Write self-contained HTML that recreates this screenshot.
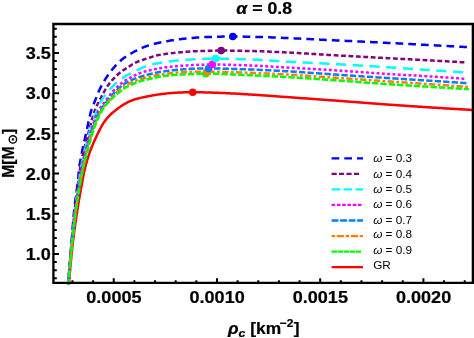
<!DOCTYPE html>
<html><head><meta charset="utf-8"><title>plot</title>
<style>
html,body{margin:0;padding:0;background:#fff;}
body{width:474px;height:338px;overflow:hidden;position:relative;font-family:"Liberation Sans",sans-serif;}
</style></head><body>
<svg width="474" height="338" viewBox="0 0 474 338" style="position:absolute;left:0;top:0;will-change:transform">
<defs><clipPath id="cp"><rect x="53.2" y="23" width="419.8" height="261.8"/></clipPath></defs>
<g clip-path="url(#cp)" fill="none" stroke-width="2.5">
<path d="M69.00,284.50 L69.07,283.41 L69.15,282.32 L69.23,281.22 L69.31,280.13 L69.39,279.04 L69.47,277.95 L69.55,276.86 L69.64,275.77 L69.73,274.68 L69.82,273.59 L69.91,272.50 L70.00,271.41 L70.09,270.32 L70.18,269.23 L70.28,268.14 L70.38,267.05 L70.48,265.96 L70.58,264.87 L70.68,263.78 L70.78,262.69 L70.88,261.60 L70.99,260.51 L71.09,259.43 L71.20,258.34 L71.31,257.25 L71.42,256.16 L71.53,255.07 L71.64,253.99 L71.75,252.90 L71.87,251.81 L71.98,250.73 L72.10,249.64 L72.21,248.55 L72.33,247.46 L72.45,246.38 L72.57,245.29 L72.69,244.21 L72.81,243.12 L72.94,242.03 L73.06,240.95 L73.19,239.86 L73.32,238.78 L73.46,237.69 L73.59,236.61 L73.73,235.52 L73.87,234.44 L74.01,233.35 L74.16,232.27 L74.30,231.18 L74.45,230.10 L74.60,229.02 L74.75,227.93 L74.90,226.85 L75.05,225.77 L75.21,224.68 L75.36,223.60 L75.52,222.52 L75.68,221.43 L75.84,220.35 L76.00,219.27 L76.16,218.19 L76.32,217.11 L76.48,216.02 L76.65,214.94 L76.81,213.86 L76.97,212.78 L77.14,211.70 L77.31,210.62 L77.47,209.54 L77.64,208.46 L77.81,207.38 L77.98,206.30 L78.15,205.22 L78.33,204.14 L78.50,203.06 L78.68,201.98 L78.86,200.90 L79.04,199.82 L79.23,198.74 L79.41,197.67 L79.60,196.59 L79.78,195.51 L79.97,194.43 L80.16,193.36 L80.35,192.28 L80.54,191.20 L80.74,190.13 L80.93,189.05 L81.12,187.97 L81.32,186.90 L81.52,185.82 L81.72,184.74 L81.91,183.67 L82.11,182.59 L82.32,181.52 L82.52,180.44 L82.72,179.37 L82.92,178.29 L83.12,177.22 L83.32,176.14 L83.53,175.07 L83.74,173.99 L83.96,172.92 L84.19,171.85 L84.42,170.79 L84.66,169.72 L84.92,168.66 L85.18,167.60 L85.45,166.54 L85.72,165.48 L86.00,164.42 L86.29,163.36 L86.59,162.31 L86.89,161.25 L87.20,160.20 L87.52,159.15 L87.84,158.11 L88.16,157.06 L88.50,156.02 L88.84,154.98 L89.18,153.95 L89.53,152.91 L89.89,151.89 L90.26,150.86 L90.65,149.84 L91.04,148.82 L91.45,147.80 L91.86,146.79 L92.29,145.78 L92.71,144.77 L93.15,143.76 L93.58,142.76 L94.02,141.75 L94.47,140.75 L94.91,139.75 L95.36,138.76 L95.81,137.76 L96.27,136.77 L96.73,135.78 L97.21,134.79 L97.68,133.81 L98.17,132.82 L98.66,131.85 L99.15,130.87 L99.65,129.90 L100.16,128.93 L100.66,127.96 L101.18,126.99 L101.70,126.02 L102.24,125.07 L102.79,124.13 L103.37,123.20 L103.97,122.30 L104.59,121.40 L105.25,120.52 L105.92,119.65 L106.60,118.80 L107.30,117.96 L108.03,117.14 L108.77,116.33 L109.53,115.54 L110.31,114.77 L111.10,114.02 L111.91,113.29 L112.74,112.58 L113.59,111.88 L114.44,111.19 L115.29,110.51 L116.15,109.83 L117.01,109.15 L117.88,108.49 L118.76,107.84 L119.65,107.21 L120.55,106.58 L121.45,105.96 L122.36,105.35 L123.28,104.76 L124.21,104.18 L125.15,103.62 L126.11,103.10 L127.07,102.59 L128.05,102.10 L129.04,101.63 L130.05,101.18 L131.06,100.76 L132.07,100.36 L133.10,99.99 L134.13,99.64 L135.18,99.31 L136.23,99.00 L137.28,98.70 L138.34,98.42 L139.40,98.15 L140.46,97.89 L141.52,97.64 L142.59,97.40 L143.66,97.17 L144.73,96.94 L145.81,96.73 L146.88,96.52 L147.95,96.31 L149.03,96.11 L150.10,95.90 L151.18,95.71 L152.25,95.51 L153.33,95.32 L154.41,95.14 L155.49,94.96 L156.57,94.79 L157.65,94.62 L158.74,94.47 L159.82,94.32 L160.90,94.18 L161.99,94.04 L163.07,93.91 L164.16,93.77 L165.24,93.64 L166.33,93.51 L167.42,93.38 L168.51,93.27 L169.60,93.16 L170.69,93.05 L171.78,92.96 L172.87,92.88 L173.96,92.81 L175.05,92.75 L176.14,92.70 L177.23,92.64 L178.32,92.59 L179.41,92.54 L180.51,92.50 L181.60,92.45 L182.69,92.41 L183.79,92.37 L184.88,92.33 L185.97,92.30 L187.07,92.27 L188.16,92.25 L189.26,92.23 L190.35,92.21 L191.44,92.20 L192.54,92.20 L193.63,92.20 L194.72,92.21 L195.82,92.21 L196.91,92.23 L198.00,92.24 L199.10,92.26 L200.19,92.28 L201.28,92.30 L202.38,92.33 L203.47,92.35 L204.56,92.38 L205.66,92.41 L206.75,92.44 L207.84,92.48 L208.94,92.51 L210.03,92.55 L211.12,92.59 L212.22,92.62 L213.31,92.66 L214.40,92.70 L215.50,92.74 L216.59,92.78 L217.68,92.82 L218.77,92.86 L219.87,92.90 L220.96,92.93 L222.05,92.97 L223.14,93.02 L224.24,93.06 L225.33,93.11 L226.42,93.16 L227.51,93.21 L228.61,93.26 L229.70,93.32 L230.79,93.38 L231.88,93.43 L232.98,93.49 L234.07,93.55 L235.16,93.61 L236.25,93.67 L237.34,93.74 L238.44,93.80 L239.53,93.87 L240.62,93.93 L241.71,94.00 L242.80,94.06 L243.89,94.13 L244.99,94.20 L246.08,94.26 L247.17,94.33 L248.26,94.40 L249.35,94.46 L250.44,94.53 L251.54,94.59 L252.63,94.66 L253.72,94.73 L254.81,94.80 L255.90,94.87 L256.99,94.94 L258.08,95.01 L259.17,95.09 L260.27,95.16 L261.36,95.24 L262.45,95.31 L263.54,95.39 L264.63,95.46 L265.72,95.54 L266.81,95.62 L267.90,95.69 L268.99,95.77 L270.08,95.85 L271.18,95.93 L272.27,96.01 L273.36,96.09 L274.45,96.17 L275.54,96.25 L276.63,96.32 L277.72,96.40 L278.81,96.48 L279.90,96.56 L280.99,96.64 L282.08,96.72 L283.17,96.80 L284.26,96.88 L285.36,96.95 L286.45,97.03 L287.54,97.11 L288.63,97.19 L289.72,97.26 L290.81,97.34 L291.90,97.42 L292.99,97.50 L294.08,97.58 L295.17,97.66 L296.26,97.73 L297.35,97.81 L298.45,97.89 L299.54,97.97 L300.63,98.05 L301.72,98.13 L302.81,98.21 L303.90,98.29 L304.99,98.37 L306.08,98.44 L307.17,98.52 L308.26,98.60 L309.35,98.68 L310.44,98.76 L311.53,98.84 L312.62,98.92 L313.72,99.00 L314.81,99.08 L315.90,99.16 L316.99,99.24 L318.08,99.32 L319.17,99.40 L320.26,99.48 L321.35,99.56 L322.44,99.64 L323.53,99.72 L324.62,99.80 L325.71,99.88 L326.80,99.96 L327.89,100.04 L328.98,100.13 L330.08,100.21 L331.17,100.29 L332.26,100.37 L333.35,100.45 L334.44,100.53 L335.53,100.61 L336.62,100.69 L337.71,100.77 L338.80,100.86 L339.89,100.94 L340.98,101.02 L342.07,101.10 L343.16,101.19 L344.25,101.27 L345.34,101.35 L346.43,101.44 L347.52,101.52 L348.61,101.60 L349.70,101.69 L350.80,101.77 L351.89,101.85 L352.98,101.94 L354.07,102.02 L355.16,102.10 L356.25,102.19 L357.34,102.27 L358.43,102.35 L359.52,102.44 L360.61,102.52 L361.70,102.60 L362.79,102.69 L363.88,102.77 L364.97,102.85 L366.06,102.93 L367.15,103.02 L368.24,103.10 L369.33,103.18 L370.42,103.26 L371.51,103.35 L372.60,103.43 L373.70,103.51 L374.79,103.59 L375.88,103.67 L376.97,103.75 L378.06,103.83 L379.15,103.91 L380.24,103.99 L381.33,104.08 L382.42,104.15 L383.51,104.23 L384.60,104.31 L385.69,104.39 L386.78,104.47 L387.87,104.55 L388.96,104.63 L390.06,104.70 L391.15,104.78 L392.24,104.86 L393.33,104.93 L394.42,105.01 L395.51,105.09 L396.60,105.16 L397.69,105.24 L398.78,105.32 L399.87,105.39 L400.96,105.47 L402.06,105.54 L403.15,105.62 L404.24,105.69 L405.33,105.77 L406.42,105.84 L407.51,105.92 L408.60,105.99 L409.69,106.06 L410.78,106.14 L411.88,106.21 L412.97,106.28 L414.06,106.36 L415.15,106.43 L416.24,106.50 L417.33,106.58 L418.42,106.65 L419.51,106.72 L420.61,106.79 L421.70,106.86 L422.79,106.93 L423.88,107.01 L424.97,107.08 L426.06,107.15 L427.15,107.22 L428.24,107.29 L429.34,107.36 L430.43,107.43 L431.52,107.50 L432.61,107.57 L433.70,107.64 L434.79,107.70 L435.88,107.77 L436.98,107.84 L438.07,107.91 L439.16,107.98 L440.25,108.05 L441.34,108.11 L442.43,108.18 L443.52,108.25 L444.62,108.32 L445.71,108.38 L446.80,108.45 L447.89,108.52 L448.98,108.58 L450.07,108.65 L451.17,108.72 L452.26,108.78 L453.35,108.85 L454.44,108.91 L455.53,108.98 L456.62,109.05 L457.72,109.11 L458.81,109.18 L459.90,109.24 L460.99,109.30 L462.08,109.37 L463.17,109.43 L464.27,109.50 L465.36,109.56 L466.45,109.62 L467.54,109.69 L468.63,109.75 L469.72,109.81 L470.82,109.88 L471.91,109.94 L473.00,110.00" stroke="#ff0000"/>
<path d="M67.90,284.50 L68.00,283.33 L68.11,282.16 L68.21,280.99 L68.31,279.82 L68.41,278.65 L68.51,277.48 L68.62,276.31 L68.72,275.14 L68.82,273.97 L68.92,272.80 L69.02,271.63 L69.12,270.46 L69.22,269.29 L69.33,268.12 L69.43,266.95 L69.53,265.78 L69.63,264.61 L69.73,263.44 L69.83,262.27 L69.93,261.10 L70.03,259.93 L70.13,258.76 L70.23,257.59 L70.33,256.42 L70.43,255.25 L70.53,254.08 L70.63,252.91 L70.73,251.74 L70.83,250.57 L70.93,249.40 L71.03,248.23 L71.13,247.06 L71.22,245.89 L71.32,244.72 L71.42,243.55 L71.52,242.38 L71.61,241.21 L71.71,240.04 L71.80,238.87 L71.89,237.70 L71.98,236.53 L72.07,235.35 L72.16,234.18 L72.25,233.01 L72.34,231.84 L72.43,230.67 L72.52,229.50 L72.61,228.33 L72.71,227.16 L72.80,225.99 L72.89,224.82 L72.98,223.64 L73.08,222.47 L73.17,221.30 L73.27,220.13 L73.37,218.96 L73.47,217.79 L73.57,216.62 L73.68,215.45 L73.79,214.29 L73.90,213.12 L74.01,211.95 L74.12,210.78 L74.24,209.61 L74.36,208.45 L74.49,207.28 L74.63,206.11 L74.77,204.95 L74.91,203.78 L75.06,202.62 L75.21,201.45 L75.36,200.29 L75.52,199.12 L75.68,197.96 L75.84,196.80 L76.00,195.63 L76.16,194.47 L76.33,193.31 L76.49,192.14 L76.65,190.98 L76.81,189.81 L76.96,188.65 L77.11,187.49 L77.27,186.32 L77.41,185.16 L77.55,183.99 L77.69,182.82 L77.82,181.66 L77.95,180.49 L78.07,179.32 L78.18,178.15 L78.28,176.98 L78.37,175.81 L78.47,174.64 L78.57,173.47 L78.67,172.30 L78.79,171.13 L78.91,169.97 L79.06,168.80 L79.21,167.64 L79.38,166.48 L79.55,165.32 L79.74,164.16 L79.93,163.00 L80.14,161.84 L80.34,160.68 L80.56,159.53 L80.77,158.37 L80.99,157.22 L81.21,156.06 L81.44,154.91 L81.66,153.76 L81.88,152.60 L82.10,151.45 L82.33,150.30 L82.56,149.15 L82.80,148.00 L83.04,146.85 L83.29,145.70 L83.54,144.56 L83.79,143.41 L84.04,142.26 L84.30,141.12 L84.56,139.97 L84.82,138.82 L85.07,137.68 L85.33,136.53 L85.59,135.39 L85.85,134.24 L86.11,133.09 L86.37,131.95 L86.62,130.80 L86.88,129.65 L87.12,128.51 L87.36,127.35 L87.60,126.20 L87.83,125.05 L88.07,123.89 L88.30,122.74 L88.54,121.58 L88.78,120.43 L89.02,119.28 L89.27,118.13 L89.53,116.99 L89.80,115.85 L90.08,114.71 L90.37,113.58 L90.67,112.45 L91.00,111.33 L91.35,110.22 L91.72,109.11 L92.12,108.00 L92.53,106.90 L92.96,105.81 L93.40,104.71 L93.84,103.62 L94.28,102.53 L94.73,101.44 L95.16,100.34 L95.59,99.25 L96.02,98.16 L96.45,97.06 L96.88,95.96 L97.31,94.87 L97.75,93.78 L98.20,92.69 L98.66,91.61 L99.13,90.54 L99.62,89.48 L100.13,88.42 L100.65,87.38 L101.19,86.34 L101.75,85.30 L102.31,84.27 L102.90,83.24 L103.49,82.22 L104.09,81.21 L104.70,80.20 L105.32,79.20 L105.94,78.21 L106.58,77.23 L107.22,76.24 L107.87,75.27 L108.54,74.30 L109.23,73.33 L109.92,72.39 L110.64,71.45 L111.36,70.53 L112.10,69.64 L112.86,68.74 L113.63,67.85 L114.41,66.96 L115.20,66.08 L116.00,65.21 L116.82,64.34 L117.65,63.49 L118.49,62.66 L119.34,61.84 L120.20,61.04 L121.08,60.27 L121.96,59.51 L122.86,58.79 L123.78,58.08 L124.72,57.40 L125.68,56.73 L126.66,56.08 L127.66,55.45 L128.67,54.83 L129.69,54.23 L130.71,53.64 L131.74,53.06 L132.78,52.50 L133.81,51.94 L134.84,51.39 L135.88,50.84 L136.93,50.30 L137.98,49.77 L139.04,49.25 L140.11,48.74 L141.18,48.24 L142.25,47.77 L143.34,47.31 L144.42,46.88 L145.52,46.47 L146.62,46.09 L147.73,45.72 L148.85,45.37 L149.97,45.04 L151.11,44.71 L152.24,44.40 L153.38,44.10 L154.53,43.82 L155.67,43.55 L156.82,43.29 L157.96,43.03 L159.11,42.78 L160.25,42.54 L161.40,42.30 L162.55,42.06 L163.70,41.83 L164.86,41.60 L166.01,41.38 L167.17,41.16 L168.33,40.95 L169.49,40.74 L170.65,40.54 L171.81,40.35 L172.97,40.16 L174.13,39.98 L175.29,39.81 L176.46,39.65 L177.62,39.49 L178.78,39.34 L179.94,39.21 L181.11,39.07 L182.27,38.94 L183.44,38.81 L184.61,38.69 L185.77,38.56 L186.94,38.44 L188.11,38.32 L189.28,38.20 L190.45,38.09 L191.62,37.98 L192.79,37.88 L193.96,37.77 L195.14,37.68 L196.31,37.59 L197.48,37.50 L198.65,37.42 L199.83,37.35 L201.00,37.28 L202.17,37.22 L203.34,37.16 L204.52,37.12 L205.69,37.08 L206.86,37.04 L208.03,37.00 L209.21,36.96 L210.38,36.92 L211.55,36.88 L212.73,36.85 L213.90,36.81 L215.08,36.78 L216.25,36.75 L217.42,36.72 L218.60,36.69 L219.77,36.66 L220.95,36.63 L222.12,36.61 L223.30,36.59 L224.47,36.57 L225.65,36.55 L226.82,36.54 L228.00,36.52 L229.17,36.51 L230.34,36.51 L231.52,36.50 L232.69,36.50 L233.87,36.50 L235.04,36.51 L236.22,36.51 L237.39,36.52 L238.56,36.53 L239.74,36.55 L240.91,36.56 L242.09,36.58 L243.26,36.60 L244.43,36.63 L245.61,36.65 L246.78,36.67 L247.96,36.70 L249.13,36.73 L250.31,36.75 L251.48,36.78 L252.65,36.81 L253.83,36.84 L255.00,36.87 L256.18,36.90 L257.35,36.93 L258.52,36.96 L259.70,36.99 L260.87,37.02 L262.04,37.05 L263.22,37.09 L264.39,37.13 L265.57,37.16 L266.74,37.20 L267.91,37.25 L269.09,37.29 L270.26,37.33 L271.43,37.38 L272.61,37.43 L273.78,37.48 L274.95,37.52 L276.13,37.57 L277.30,37.62 L278.47,37.68 L279.65,37.73 L280.82,37.78 L281.99,37.83 L283.17,37.88 L284.34,37.93 L285.51,37.98 L286.69,38.03 L287.86,38.08 L289.03,38.13 L290.21,38.18 L291.38,38.23 L292.55,38.29 L293.73,38.34 L294.90,38.39 L296.07,38.45 L297.24,38.50 L298.42,38.56 L299.59,38.61 L300.76,38.67 L301.94,38.72 L303.11,38.78 L304.28,38.84 L305.45,38.89 L306.63,38.95 L307.80,39.01 L308.97,39.07 L310.15,39.12 L311.32,39.18 L312.49,39.24 L313.67,39.30 L314.84,39.36 L316.01,39.41 L317.18,39.47 L318.36,39.53 L319.53,39.59 L320.70,39.65 L321.88,39.70 L323.05,39.76 L324.22,39.82 L325.39,39.88 L326.57,39.93 L327.74,39.99 L328.91,40.05 L330.09,40.10 L331.26,40.16 L332.43,40.22 L333.60,40.27 L334.78,40.33 L335.95,40.38 L337.12,40.44 L338.30,40.50 L339.47,40.55 L340.64,40.61 L341.82,40.66 L342.99,40.72 L344.16,40.78 L345.33,40.83 L346.51,40.89 L347.68,40.94 L348.85,41.00 L350.03,41.06 L351.20,41.11 L352.37,41.17 L353.55,41.22 L354.72,41.28 L355.89,41.34 L357.06,41.39 L358.24,41.45 L359.41,41.50 L360.58,41.56 L361.76,41.62 L362.93,41.67 L364.10,41.73 L365.27,41.78 L366.45,41.84 L367.62,41.90 L368.79,41.95 L369.97,42.01 L371.14,42.07 L372.31,42.13 L373.49,42.18 L374.66,42.24 L375.83,42.30 L377.00,42.35 L378.18,42.41 L379.35,42.47 L380.52,42.53 L381.70,42.59 L382.87,42.64 L384.04,42.70 L385.21,42.76 L386.39,42.82 L387.56,42.88 L388.73,42.94 L389.91,43.00 L391.08,43.05 L392.25,43.11 L393.42,43.17 L394.60,43.23 L395.77,43.29 L396.94,43.35 L398.11,43.41 L399.29,43.48 L400.46,43.54 L401.63,43.60 L402.81,43.66 L403.98,43.72 L405.15,43.78 L406.32,43.84 L407.50,43.90 L408.67,43.97 L409.84,44.03 L411.01,44.09 L412.19,44.15 L413.36,44.21 L414.53,44.28 L415.70,44.34 L416.88,44.40 L418.05,44.46 L419.22,44.53 L420.40,44.59 L421.57,44.65 L422.74,44.71 L423.91,44.78 L425.09,44.84 L426.26,44.90 L427.43,44.96 L428.60,45.03 L429.78,45.09 L430.95,45.15 L432.12,45.21 L433.29,45.27 L434.47,45.34 L435.64,45.40 L436.81,45.46 L437.98,45.52 L439.16,45.59 L440.33,45.65 L441.50,45.71 L442.68,45.78 L443.85,45.84 L445.02,45.90 L446.19,45.96 L447.37,46.03 L448.54,46.09 L449.71,46.15 L450.88,46.21 L452.06,46.28 L453.23,46.34 L454.40,46.40 L455.57,46.47 L456.75,46.53 L457.92,46.59 L459.09,46.66 L460.26,46.72 L461.44,46.78 L462.61,46.85 L463.78,46.91 L464.95,46.97 L466.13,47.04 L467.30,47.10" stroke="#0000ff" stroke-dasharray="7.7 5.06" stroke-dashoffset="8.93"/>
<path d="M68.00,284.50 L68.09,283.36 L68.19,282.21 L68.29,281.07 L68.38,279.93 L68.48,278.78 L68.57,277.64 L68.67,276.50 L68.77,275.35 L68.87,274.21 L68.96,273.06 L69.06,271.92 L69.16,270.78 L69.26,269.63 L69.36,268.49 L69.46,267.35 L69.56,266.20 L69.66,265.06 L69.76,263.92 L69.86,262.78 L69.96,261.63 L70.06,260.49 L70.16,259.35 L70.26,258.20 L70.36,257.06 L70.46,255.92 L70.57,254.77 L70.67,253.63 L70.77,252.49 L70.87,251.35 L70.98,250.20 L71.08,249.06 L71.18,247.92 L71.29,246.77 L71.39,245.63 L71.50,244.49 L71.60,243.35 L71.70,242.20 L71.81,241.06 L71.91,239.92 L72.02,238.77 L72.12,237.63 L72.22,236.49 L72.33,235.34 L72.43,234.20 L72.53,233.06 L72.64,231.92 L72.74,230.77 L72.85,229.63 L72.96,228.49 L73.06,227.34 L73.17,226.20 L73.28,225.06 L73.39,223.92 L73.50,222.77 L73.61,221.63 L73.72,220.49 L73.83,219.35 L73.94,218.21 L74.06,217.06 L74.17,215.92 L74.29,214.78 L74.41,213.64 L74.53,212.50 L74.65,211.36 L74.78,210.22 L74.90,209.08 L75.03,207.94 L75.15,206.80 L75.28,205.66 L75.40,204.51 L75.53,203.37 L75.66,202.23 L75.79,201.09 L75.92,199.95 L76.05,198.81 L76.19,197.67 L76.32,196.53 L76.45,195.39 L76.59,194.25 L76.73,193.11 L76.87,191.97 L77.01,190.83 L77.15,189.69 L77.29,188.55 L77.44,187.41 L77.58,186.27 L77.73,185.13 L77.88,184.00 L78.03,182.86 L78.19,181.72 L78.34,180.58 L78.50,179.45 L78.66,178.31 L78.83,177.18 L78.99,176.04 L79.16,174.91 L79.33,173.77 L79.50,172.64 L79.67,171.51 L79.85,170.37 L80.03,169.24 L80.22,168.11 L80.41,166.98 L80.61,165.85 L80.81,164.72 L81.02,163.59 L81.24,162.46 L81.45,161.34 L81.68,160.21 L81.91,159.08 L82.14,157.96 L82.37,156.83 L82.61,155.71 L82.85,154.59 L83.10,153.47 L83.34,152.35 L83.60,151.23 L83.86,150.12 L84.13,149.00 L84.40,147.89 L84.68,146.78 L84.96,145.66 L85.25,144.55 L85.54,143.44 L85.83,142.33 L86.13,141.22 L86.43,140.11 L86.73,139.01 L87.03,137.90 L87.33,136.79 L87.64,135.68 L87.94,134.58 L88.25,133.47 L88.55,132.36 L88.86,131.25 L89.16,130.15 L89.46,129.04 L89.76,127.93 L90.05,126.82 L90.34,125.71 L90.63,124.59 L90.92,123.48 L91.22,122.37 L91.52,121.26 L91.82,120.15 L92.12,119.04 L92.44,117.94 L92.76,116.84 L93.09,115.74 L93.43,114.64 L93.78,113.56 L94.14,112.47 L94.51,111.39 L94.92,110.32 L95.34,109.25 L95.78,108.19 L96.23,107.13 L96.70,106.08 L97.18,105.04 L97.68,104.01 L98.20,102.99 L98.74,101.97 L99.28,100.96 L99.83,99.95 L100.37,98.93 L100.90,97.91 L101.43,96.89 L101.96,95.86 L102.50,94.83 L103.03,93.80 L103.57,92.78 L104.12,91.76 L104.67,90.75 L105.24,89.75 L105.82,88.77 L106.41,87.79 L107.02,86.83 L107.65,85.89 L108.29,84.97 L108.97,84.06 L109.66,83.16 L110.38,82.26 L111.12,81.38 L111.87,80.51 L112.65,79.65 L113.44,78.80 L114.24,77.96 L115.06,77.14 L115.88,76.33 L116.72,75.53 L117.56,74.75 L118.41,73.99 L119.27,73.26 L120.17,72.54 L121.09,71.85 L122.02,71.17 L122.96,70.51 L123.90,69.85 L124.86,69.21 L125.82,68.58 L126.79,67.96 L127.76,67.35 L128.73,66.74 L129.70,66.11 L130.66,65.48 L131.63,64.85 L132.61,64.24 L133.60,63.65 L134.60,63.10 L135.61,62.58 L136.64,62.11 L137.69,61.67 L138.75,61.25 L139.83,60.86 L140.92,60.47 L142.01,60.10 L143.11,59.74 L144.20,59.38 L145.30,59.03 L146.39,58.67 L147.48,58.31 L148.57,57.94 L149.66,57.58 L150.76,57.22 L151.85,56.86 L152.95,56.52 L154.05,56.19 L155.16,55.88 L156.26,55.59 L157.38,55.32 L158.49,55.08 L159.61,54.87 L160.74,54.67 L161.88,54.49 L163.01,54.31 L164.15,54.15 L165.29,54.00 L166.43,53.84 L167.57,53.69 L168.70,53.55 L169.84,53.41 L170.98,53.27 L172.12,53.13 L173.26,53.00 L174.40,52.88 L175.55,52.76 L176.69,52.64 L177.83,52.53 L178.97,52.43 L180.12,52.33 L181.26,52.23 L182.40,52.13 L183.55,52.04 L184.69,51.94 L185.83,51.85 L186.98,51.76 L188.12,51.67 L189.27,51.58 L190.41,51.50 L191.56,51.42 L192.70,51.35 L193.85,51.28 L195.00,51.21 L196.14,51.15 L197.29,51.10 L198.43,51.05 L199.58,51.01 L200.73,50.98 L201.87,50.95 L203.02,50.91 L204.17,50.88 L205.31,50.85 L206.46,50.82 L207.61,50.79 L208.76,50.76 L209.90,50.74 L211.05,50.71 L212.20,50.69 L213.35,50.67 L214.49,50.65 L215.64,50.64 L216.79,50.62 L217.94,50.61 L219.08,50.61 L220.23,50.60 L221.38,50.60 L222.53,50.60 L223.67,50.60 L224.82,50.61 L225.97,50.62 L227.12,50.62 L228.26,50.63 L229.41,50.65 L230.56,50.66 L231.71,50.67 L232.85,50.69 L234.00,50.70 L235.15,50.72 L236.30,50.74 L237.45,50.76 L238.59,50.78 L239.74,50.80 L240.89,50.82 L242.04,50.84 L243.18,50.86 L244.33,50.89 L245.48,50.91 L246.62,50.93 L247.77,50.96 L248.92,50.98 L250.07,51.00 L251.21,51.03 L252.36,51.05 L253.51,51.08 L254.65,51.11 L255.80,51.14 L256.95,51.18 L258.09,51.21 L259.24,51.25 L260.39,51.29 L261.54,51.33 L262.68,51.37 L263.83,51.41 L264.98,51.46 L266.12,51.50 L267.27,51.55 L268.42,51.60 L269.56,51.65 L270.71,51.70 L271.86,51.75 L273.00,51.80 L274.15,51.85 L275.30,51.90 L276.44,51.95 L277.59,52.01 L278.74,52.06 L279.88,52.11 L281.03,52.17 L282.17,52.22 L283.32,52.27 L284.47,52.33 L285.61,52.38 L286.76,52.44 L287.91,52.49 L289.05,52.55 L290.20,52.61 L291.34,52.67 L292.49,52.73 L293.63,52.79 L294.78,52.85 L295.93,52.92 L297.07,52.98 L298.22,53.05 L299.36,53.11 L300.51,53.18 L301.65,53.25 L302.80,53.32 L303.95,53.39 L305.09,53.46 L306.24,53.53 L307.38,53.60 L308.53,53.68 L309.67,53.75 L310.82,53.82 L311.96,53.89 L313.11,53.96 L314.25,54.04 L315.40,54.11 L316.54,54.18 L317.69,54.25 L318.84,54.33 L319.98,54.40 L321.13,54.47 L322.27,54.54 L323.42,54.61 L324.56,54.68 L325.71,54.75 L326.85,54.82 L328.00,54.88 L329.14,54.95 L330.29,55.02 L331.44,55.08 L332.58,55.15 L333.73,55.21 L334.87,55.28 L336.02,55.34 L337.16,55.41 L338.31,55.47 L339.46,55.54 L340.60,55.60 L341.75,55.66 L342.89,55.73 L344.04,55.79 L345.18,55.86 L346.33,55.92 L347.48,55.98 L348.62,56.05 L349.77,56.11 L350.91,56.18 L352.06,56.24 L353.21,56.30 L354.35,56.37 L355.50,56.43 L356.64,56.49 L357.79,56.55 L358.93,56.62 L360.08,56.68 L361.23,56.74 L362.37,56.81 L363.52,56.87 L364.66,56.93 L365.81,56.99 L366.96,57.06 L368.10,57.12 L369.25,57.18 L370.39,57.24 L371.54,57.30 L372.68,57.37 L373.83,57.43 L374.98,57.49 L376.12,57.55 L377.27,57.61 L378.41,57.68 L379.56,57.74 L380.71,57.80 L381.85,57.86 L383.00,57.92 L384.14,57.99 L385.29,58.05 L386.44,58.11 L387.58,58.17 L388.73,58.23 L389.87,58.29 L391.02,58.35 L392.16,58.42 L393.31,58.48 L394.46,58.54 L395.60,58.60 L396.75,58.66 L397.89,58.72 L399.04,58.78 L400.19,58.84 L401.33,58.90 L402.48,58.96 L403.62,59.02 L404.77,59.08 L405.92,59.13 L407.06,59.19 L408.21,59.25 L409.35,59.31 L410.50,59.37 L411.65,59.43 L412.79,59.49 L413.94,59.55 L415.08,59.61 L416.23,59.67 L417.38,59.73 L418.52,59.79 L419.67,59.85 L420.81,59.91 L421.96,59.97 L423.11,60.03 L424.25,60.09 L425.40,60.15 L426.54,60.21 L427.69,60.28 L428.84,60.34 L429.98,60.40 L431.13,60.46 L432.27,60.52 L433.42,60.59 L434.57,60.65 L435.71,60.71 L436.86,60.78 L438.00,60.84 L439.15,60.90 L440.29,60.97 L441.44,61.03 L442.59,61.09 L443.73,61.16 L444.88,61.22 L446.02,61.29 L447.17,61.35 L448.31,61.42 L449.46,61.48 L450.61,61.54 L451.75,61.61 L452.90,61.67 L454.04,61.74 L455.19,61.81 L456.33,61.87 L457.48,61.94 L458.63,62.00 L459.77,62.07 L460.92,62.13 L462.06,62.20 L463.21,62.27 L464.35,62.33 L465.50,62.40" stroke="#800080" stroke-dasharray="4.8 2.617" stroke-dashoffset="4.30"/>
<path d="M68.15,284.50 L68.24,283.37 L68.33,282.25 L68.42,281.12 L68.51,279.99 L68.60,278.86 L68.70,277.74 L68.79,276.61 L68.88,275.48 L68.98,274.36 L69.07,273.23 L69.17,272.10 L69.26,270.98 L69.36,269.85 L69.45,268.72 L69.55,267.60 L69.65,266.47 L69.75,265.34 L69.85,264.22 L69.94,263.09 L70.04,261.96 L70.14,260.84 L70.24,259.71 L70.35,258.59 L70.45,257.46 L70.55,256.33 L70.65,255.21 L70.75,254.08 L70.86,252.96 L70.96,251.83 L71.07,250.70 L71.17,249.58 L71.28,248.45 L71.38,247.33 L71.49,246.20 L71.59,245.08 L71.70,243.95 L71.81,242.82 L71.91,241.70 L72.02,240.57 L72.13,239.45 L72.24,238.32 L72.34,237.20 L72.45,236.07 L72.56,234.95 L72.67,233.82 L72.78,232.69 L72.89,231.57 L73.00,230.44 L73.12,229.32 L73.23,228.19 L73.34,227.07 L73.46,225.94 L73.57,224.82 L73.69,223.69 L73.81,222.57 L73.93,221.44 L74.04,220.32 L74.17,219.19 L74.29,218.07 L74.41,216.95 L74.53,215.82 L74.66,214.70 L74.79,213.58 L74.91,212.45 L75.04,211.33 L75.18,210.21 L75.31,209.09 L75.44,207.96 L75.57,206.84 L75.71,205.72 L75.85,204.59 L75.98,203.47 L76.12,202.35 L76.26,201.23 L76.40,200.10 L76.54,198.98 L76.68,197.86 L76.82,196.74 L76.97,195.61 L77.11,194.49 L77.26,193.37 L77.41,192.25 L77.56,191.13 L77.71,190.01 L77.87,188.89 L78.02,187.76 L78.18,186.64 L78.34,185.52 L78.50,184.40 L78.66,183.28 L78.82,182.17 L78.99,181.05 L79.15,179.93 L79.32,178.81 L79.50,177.69 L79.67,176.58 L79.85,175.46 L80.02,174.35 L80.20,173.23 L80.39,172.12 L80.57,171.00 L80.76,169.89 L80.95,168.78 L81.15,167.66 L81.35,166.55 L81.56,165.44 L81.78,164.33 L81.99,163.22 L82.22,162.11 L82.45,161.00 L82.68,159.89 L82.91,158.79 L83.15,157.68 L83.40,156.58 L83.64,155.47 L83.89,154.37 L84.14,153.27 L84.39,152.17 L84.65,151.07 L84.91,149.97 L85.18,148.87 L85.45,147.77 L85.72,146.67 L86.00,145.58 L86.28,144.48 L86.56,143.39 L86.85,142.29 L87.14,141.20 L87.44,140.10 L87.73,139.01 L88.03,137.92 L88.34,136.83 L88.64,135.74 L88.95,134.65 L89.26,133.57 L89.58,132.48 L89.89,131.40 L90.21,130.31 L90.53,129.23 L90.85,128.14 L91.17,127.06 L91.50,125.98 L91.83,124.89 L92.16,123.81 L92.50,122.73 L92.84,121.65 L93.18,120.57 L93.54,119.49 L93.89,118.42 L94.26,117.35 L94.63,116.28 L95.00,115.21 L95.39,114.15 L95.78,113.09 L96.18,112.04 L96.59,110.99 L97.01,109.94 L97.44,108.88 L97.88,107.83 L98.33,106.78 L98.79,105.74 L99.27,104.71 L99.76,103.69 L100.27,102.69 L100.80,101.70 L101.35,100.74 L101.93,99.79 L102.52,98.84 L103.15,97.91 L103.79,96.98 L104.45,96.06 L105.13,95.15 L105.83,94.25 L106.54,93.36 L107.27,92.47 L108.01,91.60 L108.75,90.73 L109.51,89.87 L110.27,89.02 L111.04,88.18 L111.81,87.36 L112.59,86.54 L113.36,85.73 L114.15,84.93 L114.97,84.14 L115.80,83.36 L116.64,82.60 L117.50,81.86 L118.37,81.14 L119.26,80.43 L120.15,79.75 L121.06,79.09 L121.99,78.44 L122.94,77.81 L123.89,77.20 L124.85,76.60 L125.82,76.01 L126.80,75.45 L127.79,74.91 L128.79,74.37 L129.79,73.84 L130.79,73.32 L131.80,72.80 L132.80,72.29 L133.81,71.78 L134.82,71.27 L135.83,70.76 L136.85,70.26 L137.87,69.77 L138.89,69.29 L139.92,68.83 L140.96,68.38 L142.00,67.92 L143.04,67.47 L144.08,67.02 L145.13,66.58 L146.19,66.16 L147.25,65.77 L148.31,65.40 L149.39,65.07 L150.47,64.78 L151.56,64.51 L152.66,64.26 L153.76,64.03 L154.88,63.81 L155.99,63.60 L157.11,63.40 L158.23,63.20 L159.35,63.01 L160.46,62.82 L161.57,62.63 L162.69,62.45 L163.81,62.27 L164.93,62.10 L166.04,61.93 L167.16,61.77 L168.28,61.62 L169.41,61.47 L170.53,61.34 L171.65,61.20 L172.77,61.07 L173.90,60.95 L175.02,60.83 L176.15,60.71 L177.27,60.60 L178.40,60.49 L179.52,60.38 L180.65,60.28 L181.78,60.18 L182.90,60.09 L184.03,60.00 L185.16,59.91 L186.28,59.83 L187.41,59.74 L188.54,59.66 L189.67,59.58 L190.80,59.50 L191.92,59.42 L193.05,59.35 L194.18,59.28 L195.31,59.22 L196.44,59.16 L197.57,59.10 L198.70,59.05 L199.83,59.01 L200.96,58.97 L202.09,58.92 L203.22,58.88 L204.35,58.84 L205.48,58.80 L206.61,58.77 L207.74,58.73 L208.87,58.70 L210.00,58.67 L211.13,58.65 L212.26,58.63 L213.39,58.61 L214.52,58.60 L215.65,58.60 L216.78,58.60 L217.91,58.61 L219.04,58.61 L220.17,58.62 L221.30,58.64 L222.44,58.65 L223.57,58.67 L224.70,58.69 L225.83,58.71 L226.96,58.74 L228.09,58.77 L229.22,58.79 L230.35,58.82 L231.48,58.86 L232.61,58.89 L233.74,58.92 L234.87,58.96 L236.00,59.00 L237.13,59.03 L238.26,59.07 L239.39,59.11 L240.52,59.15 L241.65,59.19 L242.78,59.24 L243.91,59.28 L245.04,59.32 L246.17,59.36 L247.30,59.40 L248.43,59.44 L249.56,59.48 L250.69,59.53 L251.82,59.57 L252.95,59.62 L254.08,59.67 L255.21,59.72 L256.34,59.78 L257.47,59.84 L258.60,59.90 L259.72,59.96 L260.85,60.02 L261.98,60.09 L263.11,60.16 L264.24,60.23 L265.37,60.30 L266.50,60.37 L267.62,60.44 L268.75,60.52 L269.88,60.59 L271.01,60.67 L272.14,60.74 L273.27,60.82 L274.40,60.89 L275.52,60.96 L276.65,61.04 L277.78,61.11 L278.91,61.18 L280.04,61.25 L281.17,61.32 L282.30,61.39 L283.43,61.46 L284.55,61.52 L285.68,61.58 L286.81,61.64 L287.94,61.70 L289.07,61.76 L290.20,61.82 L291.33,61.88 L292.46,61.94 L293.59,62.00 L294.72,62.05 L295.85,62.11 L296.97,62.16 L298.10,62.22 L299.23,62.28 L300.36,62.33 L301.49,62.39 L302.62,62.44 L303.75,62.49 L304.88,62.55 L306.01,62.60 L307.14,62.66 L308.27,62.71 L309.40,62.77 L310.53,62.82 L311.66,62.87 L312.79,62.93 L313.92,62.98 L315.05,63.04 L316.17,63.09 L317.30,63.15 L318.43,63.20 L319.56,63.26 L320.69,63.32 L321.82,63.37 L322.95,63.43 L324.08,63.49 L325.21,63.55 L326.34,63.60 L327.47,63.66 L328.60,63.72 L329.72,63.79 L330.85,63.85 L331.98,63.91 L333.11,63.97 L334.24,64.03 L335.37,64.10 L336.50,64.16 L337.63,64.22 L338.76,64.28 L339.89,64.35 L341.01,64.41 L342.14,64.48 L343.27,64.54 L344.40,64.61 L345.53,64.67 L346.66,64.74 L347.79,64.80 L348.92,64.87 L350.04,64.94 L351.17,65.00 L352.30,65.07 L353.43,65.14 L354.56,65.20 L355.69,65.27 L356.82,65.34 L357.95,65.40 L359.07,65.47 L360.20,65.54 L361.33,65.61 L362.46,65.68 L363.59,65.75 L364.72,65.82 L365.85,65.89 L366.97,65.95 L368.10,66.02 L369.23,66.09 L370.36,66.16 L371.49,66.23 L372.62,66.30 L373.75,66.37 L374.87,66.44 L376.00,66.51 L377.13,66.59 L378.26,66.66 L379.39,66.73 L380.52,66.80 L381.65,66.87 L382.77,66.94 L383.90,67.01 L385.03,67.08 L386.16,67.16 L387.29,67.23 L388.42,67.30 L389.54,67.37 L390.67,67.44 L391.80,67.52 L392.93,67.59 L394.06,67.66 L395.19,67.74 L396.31,67.81 L397.44,67.88 L398.57,67.96 L399.70,68.03 L400.83,68.11 L401.95,68.18 L403.08,68.26 L404.21,68.34 L405.34,68.41 L406.47,68.49 L407.60,68.57 L408.72,68.64 L409.85,68.72 L410.98,68.80 L412.11,68.88 L413.24,68.95 L414.36,69.03 L415.49,69.11 L416.62,69.19 L417.75,69.26 L418.88,69.34 L420.00,69.42 L421.13,69.50 L422.26,69.57 L423.39,69.65 L424.52,69.73 L425.64,69.80 L426.77,69.88 L427.90,69.96 L429.03,70.03 L430.16,70.11 L431.28,70.19 L432.41,70.26 L433.54,70.34 L434.67,70.42 L435.80,70.49 L436.93,70.57 L438.05,70.64 L439.18,70.72 L440.31,70.80 L441.44,70.87 L442.57,70.95 L443.69,71.03 L444.82,71.10 L445.95,71.18 L447.08,71.25 L448.21,71.33 L449.33,71.41 L450.46,71.48 L451.59,71.56 L452.72,71.64 L453.85,71.71 L454.98,71.79 L456.10,71.87 L457.23,71.94 L458.36,72.02 L459.49,72.09 L460.62,72.17 L461.74,72.25 L462.87,72.32 L464.00,72.40" stroke="#00ffff" stroke-dasharray="10.2 6.55" stroke-dashoffset="16.17"/>
<path d="M68.25,284.50 L68.34,283.38 L68.42,282.26 L68.51,281.14 L68.60,280.02 L68.69,278.90 L68.78,277.78 L68.87,276.66 L68.96,275.54 L69.05,274.42 L69.14,273.30 L69.23,272.18 L69.33,271.06 L69.42,269.94 L69.52,268.83 L69.61,267.71 L69.71,266.59 L69.81,265.47 L69.91,264.35 L70.01,263.23 L70.11,262.11 L70.21,260.99 L70.31,259.87 L70.41,258.76 L70.51,257.64 L70.61,256.52 L70.71,255.40 L70.82,254.28 L70.92,253.16 L71.03,252.05 L71.13,250.93 L71.24,249.81 L71.34,248.69 L71.45,247.57 L71.56,246.46 L71.67,245.34 L71.78,244.22 L71.88,243.10 L71.99,241.99 L72.10,240.87 L72.22,239.75 L72.33,238.63 L72.44,237.51 L72.55,236.40 L72.67,235.28 L72.78,234.16 L72.90,233.04 L73.01,231.93 L73.13,230.81 L73.25,229.69 L73.36,228.58 L73.48,227.46 L73.60,226.34 L73.73,225.22 L73.85,224.11 L73.97,222.99 L74.10,221.88 L74.22,220.76 L74.35,219.64 L74.48,218.53 L74.61,217.41 L74.74,216.30 L74.87,215.18 L75.00,214.07 L75.14,212.95 L75.27,211.84 L75.41,210.72 L75.55,209.61 L75.69,208.49 L75.83,207.38 L75.97,206.27 L76.11,205.15 L76.26,204.04 L76.40,202.92 L76.55,201.81 L76.69,200.70 L76.84,199.58 L76.99,198.47 L77.14,197.35 L77.29,196.24 L77.45,195.13 L77.60,194.01 L77.76,192.90 L77.91,191.79 L78.07,190.67 L78.23,189.56 L78.40,188.45 L78.56,187.34 L78.73,186.23 L78.89,185.12 L79.06,184.01 L79.24,182.90 L79.41,181.79 L79.58,180.68 L79.76,179.57 L79.94,178.46 L80.12,177.35 L80.30,176.24 L80.49,175.14 L80.68,174.03 L80.87,172.92 L81.06,171.82 L81.25,170.71 L81.45,169.61 L81.65,168.51 L81.86,167.40 L82.07,166.30 L82.29,165.20 L82.52,164.10 L82.74,163.00 L82.98,161.90 L83.21,160.80 L83.46,159.70 L83.70,158.60 L83.95,157.51 L84.20,156.41 L84.45,155.32 L84.71,154.22 L84.97,153.13 L85.23,152.04 L85.49,150.95 L85.76,149.86 L86.03,148.77 L86.31,147.68 L86.59,146.59 L86.87,145.50 L87.15,144.41 L87.44,143.33 L87.73,142.24 L88.03,141.16 L88.33,140.07 L88.63,138.99 L88.94,137.91 L89.25,136.83 L89.56,135.75 L89.88,134.67 L90.20,133.60 L90.52,132.52 L90.85,131.45 L91.18,130.38 L91.52,129.31 L91.85,128.23 L92.19,127.15 L92.52,126.07 L92.86,124.99 L93.21,123.91 L93.56,122.83 L93.91,121.75 L94.28,120.68 L94.65,119.61 L95.03,118.54 L95.43,117.49 L95.84,116.45 L96.26,115.41 L96.69,114.39 L97.14,113.38 L97.61,112.39 L98.10,111.41 L98.63,110.44 L99.20,109.49 L99.80,108.55 L100.43,107.62 L101.09,106.70 L101.76,105.79 L102.44,104.89 L103.14,103.98 L103.84,103.09 L104.53,102.19 L105.23,101.29 L105.91,100.39 L106.58,99.49 L107.25,98.59 L107.92,97.68 L108.59,96.78 L109.27,95.88 L109.95,94.99 L110.65,94.10 L111.35,93.23 L112.07,92.37 L112.80,91.52 L113.55,90.69 L114.32,89.87 L115.10,89.06 L115.89,88.26 L116.70,87.48 L117.52,86.70 L118.35,85.94 L119.19,85.20 L120.03,84.47 L120.89,83.74 L121.76,83.02 L122.65,82.32 L123.55,81.65 L124.46,80.99 L125.39,80.37 L126.35,79.80 L127.34,79.26 L128.33,78.72 L129.30,78.17 L130.28,77.62 L131.27,77.08 L132.27,76.56 L133.27,76.05 L134.27,75.54 L135.29,75.04 L136.30,74.55 L137.32,74.08 L138.35,73.63 L139.39,73.22 L140.44,72.85 L141.50,72.49 L142.57,72.16 L143.65,71.83 L144.73,71.53 L145.82,71.23 L146.91,70.95 L148.00,70.68 L149.10,70.41 L150.19,70.16 L151.28,69.91 L152.38,69.66 L153.48,69.43 L154.58,69.20 L155.68,68.98 L156.79,68.77 L157.89,68.56 L159.00,68.37 L160.10,68.18 L161.21,68.00 L162.32,67.83 L163.43,67.66 L164.54,67.49 L165.66,67.34 L166.77,67.19 L167.88,67.05 L169.00,66.91 L170.11,66.79 L171.23,66.67 L172.35,66.56 L173.47,66.45 L174.58,66.34 L175.70,66.24 L176.82,66.14 L177.94,66.04 L179.06,65.95 L180.18,65.87 L181.30,65.78 L182.42,65.70 L183.54,65.63 L184.66,65.56 L185.78,65.49 L186.91,65.42 L188.03,65.35 L189.15,65.29 L190.27,65.23 L191.39,65.17 L192.51,65.11 L193.64,65.06 L194.76,65.00 L195.88,64.95 L197.00,64.91 L198.12,64.86 L199.25,64.82 L200.37,64.79 L201.49,64.75 L202.61,64.71 L203.74,64.68 L204.86,64.64 L205.98,64.61 L207.11,64.58 L208.23,64.55 L209.35,64.53 L210.47,64.51 L211.60,64.50 L212.72,64.50 L213.84,64.50 L214.97,64.51 L216.09,64.51 L217.21,64.52 L218.33,64.54 L219.46,64.55 L220.58,64.57 L221.70,64.59 L222.83,64.61 L223.95,64.64 L225.07,64.66 L226.20,64.69 L227.32,64.72 L228.44,64.75 L229.56,64.78 L230.69,64.81 L231.81,64.85 L232.93,64.88 L234.06,64.92 L235.18,64.96 L236.30,65.00 L237.42,65.04 L238.55,65.08 L239.67,65.12 L240.79,65.16 L241.91,65.20 L243.04,65.24 L244.16,65.28 L245.28,65.33 L246.40,65.37 L247.53,65.41 L248.65,65.45 L249.77,65.49 L250.89,65.53 L252.01,65.58 L253.14,65.62 L254.26,65.67 L255.38,65.72 L256.50,65.78 L257.62,65.83 L258.75,65.89 L259.87,65.95 L260.99,66.01 L262.11,66.07 L263.23,66.13 L264.35,66.19 L265.47,66.26 L266.60,66.33 L267.72,66.39 L268.84,66.46 L269.96,66.53 L271.08,66.60 L272.20,66.67 L273.32,66.74 L274.44,66.81 L275.57,66.88 L276.69,66.94 L277.81,67.01 L278.93,67.08 L280.05,67.15 L281.17,67.22 L282.29,67.29 L283.41,67.35 L284.54,67.42 L285.66,67.48 L286.78,67.54 L287.90,67.61 L289.02,67.67 L290.14,67.73 L291.26,67.79 L292.38,67.86 L293.51,67.92 L294.63,67.98 L295.75,68.04 L296.87,68.10 L297.99,68.17 L299.11,68.23 L300.24,68.29 L301.36,68.35 L302.48,68.41 L303.60,68.47 L304.72,68.54 L305.84,68.60 L306.96,68.66 L308.09,68.72 L309.21,68.79 L310.33,68.85 L311.45,68.91 L312.57,68.98 L313.69,69.04 L314.81,69.10 L315.93,69.17 L317.06,69.23 L318.18,69.30 L319.30,69.36 L320.42,69.43 L321.54,69.49 L322.66,69.56 L323.78,69.62 L324.90,69.69 L326.03,69.76 L327.15,69.83 L328.27,69.89 L329.39,69.96 L330.51,70.03 L331.63,70.10 L332.75,70.17 L333.87,70.24 L334.99,70.32 L336.11,70.39 L337.23,70.46 L338.36,70.54 L339.48,70.61 L340.60,70.69 L341.72,70.76 L342.84,70.84 L343.96,70.92 L345.08,70.99 L346.20,71.07 L347.32,71.15 L348.44,71.23 L349.56,71.30 L350.68,71.38 L351.80,71.46 L352.92,71.54 L354.04,71.62 L355.16,71.70 L356.28,71.78 L357.40,71.86 L358.52,71.94 L359.64,72.02 L360.76,72.10 L361.88,72.18 L363.00,72.26 L364.12,72.34 L365.25,72.42 L366.37,72.50 L367.49,72.58 L368.61,72.66 L369.73,72.74 L370.85,72.82 L371.97,72.90 L373.09,72.98 L374.21,73.05 L375.33,73.13 L376.45,73.21 L377.57,73.29 L378.69,73.36 L379.81,73.44 L380.93,73.51 L382.05,73.59 L383.17,73.66 L384.29,73.74 L385.41,73.81 L386.54,73.88 L387.66,73.95 L388.78,74.02 L389.90,74.09 L391.02,74.16 L392.14,74.23 L393.26,74.30 L394.38,74.37 L395.50,74.43 L396.62,74.50 L397.75,74.56 L398.87,74.63 L399.99,74.69 L401.11,74.75 L402.23,74.82 L403.35,74.88 L404.47,74.94 L405.60,75.00 L406.72,75.07 L407.84,75.13 L408.96,75.19 L410.08,75.25 L411.20,75.31 L412.32,75.38 L413.45,75.44 L414.57,75.50 L415.69,75.56 L416.81,75.62 L417.93,75.69 L419.05,75.75 L420.17,75.81 L421.30,75.88 L422.42,75.94 L423.54,76.01 L424.66,76.07 L425.78,76.14 L426.90,76.21 L428.02,76.28 L429.14,76.35 L430.26,76.42 L431.39,76.49 L432.51,76.56 L433.63,76.63 L434.75,76.70 L435.87,76.77 L436.99,76.85 L438.11,76.92 L439.23,76.99 L440.35,77.07 L441.47,77.14 L442.59,77.22 L443.71,77.29 L444.83,77.37 L445.95,77.45 L447.07,77.52 L448.20,77.60 L449.32,77.68 L450.44,77.75 L451.56,77.83 L452.68,77.91 L453.80,77.99 L454.92,78.07 L456.04,78.15 L457.16,78.23 L458.28,78.31 L459.40,78.39 L460.52,78.47 L461.64,78.55 L462.76,78.64 L463.88,78.72 L465.00,78.80" stroke="#ff00ff" stroke-dasharray="2.9 2.413" stroke-dashoffset="0.89"/>
<path d="M68.35,284.50 L68.43,283.38 L68.52,282.26 L68.60,281.15 L68.69,280.03 L68.78,278.91 L68.87,277.79 L68.96,276.68 L69.05,275.56 L69.14,274.44 L69.23,273.32 L69.32,272.21 L69.41,271.09 L69.51,269.97 L69.60,268.86 L69.70,267.74 L69.80,266.62 L69.89,265.50 L69.99,264.39 L70.09,263.27 L70.19,262.15 L70.29,261.04 L70.39,259.92 L70.49,258.81 L70.59,257.69 L70.70,256.57 L70.80,255.46 L70.90,254.34 L71.01,253.23 L71.11,252.11 L71.22,250.99 L71.33,249.88 L71.43,248.76 L71.54,247.65 L71.65,246.53 L71.76,245.42 L71.87,244.30 L71.98,243.19 L72.09,242.07 L72.20,240.96 L72.31,239.84 L72.43,238.72 L72.54,237.61 L72.66,236.49 L72.77,235.38 L72.89,234.26 L73.01,233.15 L73.12,232.03 L73.24,230.92 L73.36,229.80 L73.49,228.69 L73.61,227.58 L73.73,226.46 L73.86,225.35 L73.98,224.23 L74.11,223.12 L74.24,222.00 L74.37,220.89 L74.50,219.78 L74.63,218.66 L74.76,217.55 L74.90,216.44 L75.03,215.33 L75.17,214.21 L75.31,213.10 L75.45,211.99 L75.59,210.88 L75.73,209.77 L75.87,208.66 L76.02,207.55 L76.16,206.43 L76.31,205.32 L76.46,204.21 L76.61,203.10 L76.76,201.99 L76.91,200.88 L77.07,199.77 L77.22,198.66 L77.38,197.55 L77.54,196.44 L77.70,195.33 L77.86,194.22 L78.02,193.11 L78.19,192.00 L78.35,190.89 L78.52,189.78 L78.69,188.67 L78.86,187.56 L79.03,186.45 L79.21,185.34 L79.38,184.24 L79.56,183.13 L79.74,182.02 L79.92,180.92 L80.11,179.81 L80.29,178.71 L80.48,177.60 L80.67,176.50 L80.87,175.39 L81.06,174.29 L81.26,173.19 L81.46,172.09 L81.66,170.98 L81.86,169.88 L82.07,168.78 L82.28,167.68 L82.50,166.59 L82.73,165.49 L82.96,164.39 L83.20,163.29 L83.44,162.20 L83.68,161.10 L83.93,160.01 L84.18,158.92 L84.44,157.82 L84.69,156.73 L84.96,155.64 L85.22,154.55 L85.49,153.46 L85.75,152.38 L86.02,151.29 L86.30,150.20 L86.57,149.12 L86.85,148.03 L87.14,146.94 L87.42,145.86 L87.71,144.77 L88.00,143.69 L88.30,142.61 L88.60,141.52 L88.90,140.44 L89.21,139.36 L89.52,138.29 L89.84,137.21 L90.16,136.14 L90.49,135.06 L90.82,133.99 L91.15,132.92 L91.49,131.86 L91.84,130.80 L92.19,129.74 L92.54,128.67 L92.90,127.61 L93.26,126.54 L93.62,125.47 L94.00,124.40 L94.37,123.33 L94.76,122.26 L95.15,121.20 L95.55,120.14 L95.96,119.09 L96.39,118.05 L96.82,117.01 L97.27,115.99 L97.73,114.98 L98.20,113.97 L98.69,112.99 L99.19,112.01 L99.73,111.05 L100.29,110.11 L100.90,109.18 L101.53,108.26 L102.18,107.34 L102.85,106.44 L103.55,105.55 L104.25,104.66 L104.96,103.77 L105.67,102.89 L106.39,102.01 L107.10,101.13 L107.80,100.25 L108.49,99.37 L109.19,98.49 L109.89,97.62 L110.61,96.75 L111.33,95.89 L112.06,95.04 L112.81,94.21 L113.57,93.39 L114.34,92.58 L115.13,91.78 L115.93,90.99 L116.74,90.21 L117.56,89.45 L118.39,88.70 L119.23,87.96 L120.08,87.23 L120.94,86.51 L121.81,85.79 L122.69,85.09 L123.59,84.42 L124.50,83.76 L125.43,83.14 L126.39,82.57 L127.37,82.03 L128.37,81.51 L129.37,81.01 L130.38,80.52 L131.40,80.06 L132.43,79.62 L133.47,79.20 L134.52,78.80 L135.57,78.41 L136.62,78.03 L137.69,77.66 L138.75,77.30 L139.82,76.96 L140.88,76.62 L141.95,76.29 L143.03,75.97 L144.10,75.66 L145.18,75.35 L146.27,75.05 L147.35,74.77 L148.44,74.49 L149.52,74.22 L150.61,73.95 L151.70,73.70 L152.80,73.45 L153.89,73.20 L154.99,72.96 L156.09,72.73 L157.19,72.51 L158.29,72.30 L159.39,72.10 L160.49,71.92 L161.60,71.74 L162.71,71.57 L163.81,71.40 L164.93,71.24 L166.04,71.09 L167.15,70.94 L168.26,70.80 L169.37,70.67 L170.49,70.55 L171.60,70.42 L172.72,70.30 L173.83,70.18 L174.95,70.07 L176.06,69.96 L177.18,69.85 L178.29,69.75 L179.41,69.65 L180.53,69.56 L181.65,69.47 L182.76,69.38 L183.88,69.31 L185.00,69.23 L186.12,69.16 L187.24,69.09 L188.36,69.01 L189.47,68.94 L190.59,68.87 L191.71,68.80 L192.83,68.74 L193.95,68.69 L195.07,68.63 L196.19,68.59 L197.31,68.55 L198.43,68.52 L199.55,68.51 L200.67,68.49 L201.80,68.48 L202.92,68.47 L204.04,68.47 L205.16,68.46 L206.28,68.45 L207.40,68.45 L208.52,68.45 L209.64,68.45 L210.76,68.45 L211.88,68.46 L213.00,68.47 L214.13,68.48 L215.25,68.49 L216.37,68.51 L217.49,68.52 L218.61,68.54 L219.73,68.56 L220.85,68.59 L221.97,68.61 L223.09,68.64 L224.21,68.66 L225.33,68.69 L226.45,68.72 L227.57,68.75 L228.69,68.79 L229.81,68.82 L230.94,68.85 L232.06,68.89 L233.18,68.92 L234.30,68.96 L235.42,69.00 L236.54,69.04 L237.66,69.07 L238.78,69.11 L239.90,69.15 L241.02,69.19 L242.14,69.23 L243.26,69.27 L244.38,69.31 L245.50,69.35 L246.62,69.39 L247.74,69.42 L248.86,69.46 L249.98,69.50 L251.10,69.54 L252.22,69.58 L253.34,69.62 L254.46,69.66 L255.58,69.70 L256.70,69.75 L257.82,69.79 L258.94,69.84 L260.06,69.89 L261.18,69.93 L262.30,69.98 L263.42,70.03 L264.54,70.09 L265.66,70.14 L266.78,70.19 L267.90,70.25 L269.02,70.30 L270.14,70.36 L271.26,70.41 L272.38,70.47 L273.50,70.53 L274.62,70.58 L275.74,70.64 L276.86,70.70 L277.98,70.76 L279.10,70.82 L280.22,70.88 L281.33,70.94 L282.45,71.00 L283.57,71.07 L284.69,71.13 L285.81,71.19 L286.93,71.25 L288.05,71.32 L289.17,71.38 L290.29,71.45 L291.41,71.52 L292.52,71.59 L293.64,71.66 L294.76,71.73 L295.88,71.80 L297.00,71.87 L298.12,71.95 L299.23,72.02 L300.35,72.10 L301.47,72.17 L302.59,72.25 L303.71,72.33 L304.83,72.41 L305.94,72.49 L307.06,72.57 L308.18,72.65 L309.30,72.73 L310.42,72.81 L311.53,72.89 L312.65,72.97 L313.77,73.05 L314.89,73.13 L316.01,73.21 L317.13,73.29 L318.24,73.37 L319.36,73.45 L320.48,73.53 L321.60,73.61 L322.72,73.69 L323.83,73.77 L324.95,73.85 L326.07,73.93 L327.19,74.01 L328.31,74.08 L329.43,74.16 L330.54,74.24 L331.66,74.31 L332.78,74.39 L333.90,74.46 L335.02,74.54 L336.14,74.61 L337.25,74.69 L338.37,74.77 L339.49,74.84 L340.61,74.92 L341.73,74.99 L342.85,75.07 L343.96,75.14 L345.08,75.22 L346.20,75.29 L347.32,75.37 L348.44,75.45 L349.56,75.52 L350.67,75.60 L351.79,75.67 L352.91,75.75 L354.03,75.82 L355.15,75.90 L356.27,75.97 L357.38,76.05 L358.50,76.12 L359.62,76.20 L360.74,76.27 L361.86,76.35 L362.98,76.42 L364.09,76.50 L365.21,76.57 L366.33,76.65 L367.45,76.72 L368.57,76.80 L369.69,76.87 L370.81,76.94 L371.92,77.02 L373.04,77.09 L374.16,77.17 L375.28,77.24 L376.40,77.31 L377.52,77.39 L378.63,77.46 L379.75,77.53 L380.87,77.61 L381.99,77.68 L383.11,77.75 L384.23,77.83 L385.35,77.90 L386.46,77.97 L387.58,78.04 L388.70,78.12 L389.82,78.19 L390.94,78.26 L392.06,78.33 L393.18,78.40 L394.29,78.47 L395.41,78.54 L396.53,78.61 L397.65,78.68 L398.77,78.75 L399.89,78.82 L401.01,78.89 L402.13,78.96 L403.24,79.03 L404.36,79.10 L405.48,79.17 L406.60,79.24 L407.72,79.31 L408.84,79.38 L409.96,79.44 L411.08,79.51 L412.19,79.58 L413.31,79.65 L414.43,79.72 L415.55,79.79 L416.67,79.86 L417.79,79.93 L418.91,80.00 L420.03,80.07 L421.15,80.14 L422.26,80.21 L423.38,80.28 L424.50,80.35 L425.62,80.42 L426.74,80.49 L427.86,80.56 L428.98,80.63 L430.09,80.71 L431.21,80.78 L432.33,80.85 L433.45,80.93 L434.57,81.00 L435.69,81.07 L436.81,81.15 L437.92,81.22 L439.04,81.29 L440.16,81.37 L441.28,81.44 L442.40,81.52 L443.52,81.59 L444.63,81.67 L445.75,81.74 L446.87,81.82 L447.99,81.89 L449.11,81.97 L450.23,82.04 L451.34,82.12 L452.46,82.20 L453.58,82.27 L454.70,82.35 L455.82,82.43 L456.94,82.50 L458.05,82.58 L459.17,82.66 L460.29,82.73 L461.41,82.81 L462.53,82.89 L463.65,82.97 L464.76,83.04 L465.88,83.12 L467.00,83.20" stroke="#0080ff" stroke-dasharray="6.3 2.2" stroke-dashoffset="8.42"/>
<path d="M68.40,284.50 L68.48,283.38 L68.57,282.27 L68.66,281.15 L68.74,280.04 L68.83,278.92 L68.92,277.81 L69.01,276.69 L69.10,275.58 L69.19,274.46 L69.28,273.34 L69.38,272.23 L69.47,271.11 L69.57,270.00 L69.66,268.89 L69.76,267.77 L69.86,266.66 L69.96,265.54 L70.06,264.43 L70.16,263.31 L70.26,262.20 L70.36,261.08 L70.46,259.97 L70.56,258.86 L70.67,257.74 L70.77,256.63 L70.88,255.51 L70.98,254.40 L71.09,253.29 L71.19,252.17 L71.30,251.06 L71.41,249.95 L71.52,248.83 L71.63,247.72 L71.74,246.61 L71.85,245.49 L71.96,244.38 L72.07,243.27 L72.19,242.15 L72.30,241.04 L72.42,239.93 L72.53,238.82 L72.65,237.70 L72.76,236.59 L72.88,235.48 L73.00,234.36 L73.12,233.25 L73.24,232.14 L73.36,231.03 L73.49,229.91 L73.61,228.80 L73.74,227.69 L73.86,226.58 L73.99,225.47 L74.12,224.35 L74.25,223.24 L74.38,222.13 L74.51,221.02 L74.64,219.91 L74.78,218.80 L74.92,217.69 L75.05,216.58 L75.19,215.47 L75.33,214.36 L75.48,213.25 L75.62,212.14 L75.76,211.03 L75.91,209.92 L76.06,208.81 L76.21,207.71 L76.36,206.60 L76.51,205.49 L76.66,204.38 L76.82,203.27 L76.97,202.16 L77.13,201.06 L77.29,199.95 L77.45,198.84 L77.61,197.73 L77.78,196.62 L77.94,195.52 L78.11,194.41 L78.28,193.30 L78.45,192.20 L78.62,191.09 L78.80,189.98 L78.97,188.88 L79.15,187.77 L79.33,186.67 L79.51,185.56 L79.69,184.46 L79.88,183.35 L80.07,182.25 L80.25,181.15 L80.45,180.05 L80.64,178.94 L80.83,177.84 L81.03,176.74 L81.23,175.64 L81.43,174.54 L81.64,173.44 L81.84,172.34 L82.05,171.25 L82.26,170.15 L82.48,169.05 L82.70,167.96 L82.92,166.86 L83.15,165.77 L83.39,164.67 L83.63,163.58 L83.88,162.49 L84.13,161.40 L84.39,160.31 L84.65,159.22 L84.91,158.13 L85.18,157.04 L85.45,155.96 L85.72,154.87 L86.00,153.79 L86.28,152.70 L86.56,151.62 L86.84,150.54 L87.13,149.46 L87.42,148.38 L87.71,147.30 L88.01,146.21 L88.31,145.14 L88.61,144.06 L88.92,142.98 L89.23,141.90 L89.54,140.83 L89.86,139.75 L90.19,138.68 L90.51,137.61 L90.85,136.54 L91.18,135.47 L91.52,134.41 L91.87,133.34 L92.22,132.28 L92.58,131.23 L92.94,130.17 L93.31,129.12 L93.67,128.06 L94.05,127.00 L94.42,125.93 L94.81,124.87 L95.19,123.81 L95.59,122.75 L95.99,121.69 L96.40,120.64 L96.82,119.59 L97.25,118.55 L97.70,117.52 L98.15,116.50 L98.62,115.49 L99.10,114.49 L99.60,113.50 L100.11,112.54 L100.64,111.58 L101.20,110.64 L101.79,109.71 L102.42,108.79 L103.07,107.88 L103.75,106.98 L104.44,106.09 L105.15,105.21 L105.87,104.34 L106.60,103.47 L107.34,102.61 L108.08,101.76 L108.81,100.91 L109.55,100.06 L110.29,99.23 L111.05,98.41 L111.83,97.61 L112.61,96.80 L113.39,95.99 L114.15,95.17 L114.91,94.34 L115.67,93.51 L116.43,92.69 L117.21,91.88 L118.00,91.09 L118.81,90.33 L119.65,89.61 L120.51,88.90 L121.39,88.20 L122.29,87.53 L123.21,86.88 L124.14,86.25 L125.08,85.65 L126.04,85.09 L127.04,84.58 L128.04,84.08 L129.05,83.58 L130.05,83.08 L131.06,82.61 L132.09,82.16 L133.12,81.74 L134.16,81.33 L135.21,80.93 L136.26,80.54 L137.32,80.17 L138.38,79.81 L139.45,79.47 L140.51,79.15 L141.58,78.83 L142.66,78.53 L143.74,78.23 L144.82,77.95 L145.91,77.67 L147.00,77.40 L148.09,77.14 L149.18,76.89 L150.27,76.64 L151.36,76.40 L152.45,76.16 L153.55,75.92 L154.64,75.70 L155.74,75.48 L156.84,75.26 L157.94,75.06 L159.04,74.86 L160.14,74.68 L161.25,74.50 L162.35,74.32 L163.46,74.15 L164.57,73.99 L165.67,73.83 L166.78,73.69 L167.89,73.54 L169.00,73.41 L170.12,73.29 L171.23,73.17 L172.34,73.05 L173.45,72.93 L174.57,72.82 L175.68,72.70 L176.80,72.60 L177.91,72.50 L179.03,72.40 L180.14,72.32 L181.26,72.24 L182.38,72.18 L183.49,72.12 L184.61,72.08 L185.73,72.03 L186.84,72.00 L187.96,71.96 L189.08,71.92 L190.20,71.89 L191.32,71.86 L192.44,71.83 L193.55,71.81 L194.67,71.78 L195.79,71.76 L196.91,71.74 L198.03,71.72 L199.15,71.71 L200.27,71.70 L201.39,71.69 L202.51,71.67 L203.62,71.66 L204.74,71.66 L205.86,71.65 L206.98,71.65 L208.10,71.65 L209.22,71.66 L210.34,71.66 L211.46,71.67 L212.57,71.68 L213.69,71.70 L214.81,71.71 L215.93,71.73 L217.05,71.75 L218.17,71.77 L219.29,71.79 L220.40,71.82 L221.52,71.84 L222.64,71.87 L223.76,71.90 L224.88,71.93 L226.00,71.97 L227.12,72.00 L228.23,72.03 L229.35,72.07 L230.47,72.10 L231.59,72.14 L232.71,72.18 L233.83,72.22 L234.94,72.26 L236.06,72.30 L237.18,72.34 L238.30,72.38 L239.42,72.42 L240.54,72.46 L241.65,72.50 L242.77,72.54 L243.89,72.58 L245.01,72.62 L246.13,72.66 L247.25,72.70 L248.36,72.74 L249.48,72.78 L250.60,72.82 L251.72,72.86 L252.84,72.90 L253.95,72.94 L255.07,72.99 L256.19,73.03 L257.31,73.08 L258.42,73.12 L259.54,73.17 L260.66,73.22 L261.78,73.27 L262.90,73.32 L264.01,73.37 L265.13,73.42 L266.25,73.47 L267.37,73.53 L268.48,73.58 L269.60,73.64 L270.72,73.69 L271.84,73.75 L272.95,73.81 L274.07,73.86 L275.19,73.92 L276.31,73.98 L277.42,74.04 L278.54,74.10 L279.66,74.16 L280.78,74.22 L281.89,74.28 L283.01,74.34 L284.13,74.40 L285.24,74.46 L286.36,74.52 L287.48,74.58 L288.59,74.65 L289.71,74.71 L290.83,74.77 L291.95,74.84 L293.06,74.91 L294.18,74.98 L295.30,75.05 L296.41,75.12 L297.53,75.19 L298.64,75.26 L299.76,75.33 L300.88,75.40 L301.99,75.48 L303.11,75.55 L304.23,75.63 L305.34,75.70 L306.46,75.78 L307.58,75.85 L308.69,75.93 L309.81,76.01 L310.92,76.08 L312.04,76.16 L313.16,76.24 L314.27,76.32 L315.39,76.39 L316.51,76.47 L317.62,76.55 L318.74,76.63 L319.85,76.70 L320.97,76.78 L322.09,76.86 L323.20,76.94 L324.32,77.01 L325.44,77.09 L326.55,77.17 L327.67,77.24 L328.78,77.32 L329.90,77.39 L331.02,77.47 L332.13,77.54 L333.25,77.62 L334.37,77.69 L335.48,77.77 L336.60,77.84 L337.71,77.92 L338.83,78.00 L339.95,78.07 L341.06,78.15 L342.18,78.22 L343.30,78.30 L344.41,78.38 L345.53,78.45 L346.64,78.53 L347.76,78.60 L348.88,78.68 L349.99,78.76 L351.11,78.83 L352.23,78.91 L353.34,78.99 L354.46,79.06 L355.57,79.14 L356.69,79.22 L357.81,79.29 L358.92,79.37 L360.04,79.45 L361.15,79.52 L362.27,79.60 L363.39,79.68 L364.50,79.75 L365.62,79.83 L366.74,79.91 L367.85,79.98 L368.97,80.06 L370.08,80.14 L371.20,80.21 L372.32,80.29 L373.43,80.37 L374.55,80.44 L375.66,80.52 L376.78,80.60 L377.90,80.67 L379.01,80.75 L380.13,80.83 L381.25,80.90 L382.36,80.98 L383.48,81.06 L384.59,81.13 L385.71,81.21 L386.83,81.28 L387.94,81.36 L389.06,81.44 L390.18,81.51 L391.29,81.59 L392.41,81.66 L393.52,81.74 L394.64,81.81 L395.76,81.89 L396.87,81.96 L397.99,82.04 L399.11,82.11 L400.22,82.19 L401.34,82.26 L402.46,82.34 L403.57,82.41 L404.69,82.48 L405.80,82.56 L406.92,82.63 L408.04,82.71 L409.15,82.78 L410.27,82.86 L411.39,82.93 L412.50,83.01 L413.62,83.08 L414.73,83.16 L415.85,83.23 L416.97,83.31 L418.08,83.38 L419.20,83.46 L420.32,83.53 L421.43,83.61 L422.55,83.68 L423.66,83.76 L424.78,83.84 L425.90,83.91 L427.01,83.99 L428.13,84.07 L429.25,84.15 L430.36,84.23 L431.48,84.30 L432.59,84.38 L433.71,84.46 L434.83,84.54 L435.94,84.62 L437.06,84.70 L438.17,84.78 L439.29,84.86 L440.41,84.94 L441.52,85.02 L442.64,85.10 L443.75,85.18 L444.87,85.26 L445.99,85.34 L447.10,85.42 L448.22,85.50 L449.33,85.59 L450.45,85.67 L451.56,85.75 L452.68,85.83 L453.80,85.91 L454.91,86.00 L456.03,86.08 L457.14,86.16 L458.26,86.25 L459.37,86.33 L460.49,86.41 L461.61,86.50 L462.72,86.58 L463.84,86.66 L464.95,86.75 L466.07,86.83 L467.18,86.92 L468.30,87.00" stroke="#ff8000" stroke-dasharray="6.3 2.35 2.8 2.36" stroke-dashoffset="5.82"/>
<path d="M68.50,284.50 L68.58,283.39 L68.67,282.27 L68.76,281.16 L68.84,280.05 L68.93,278.93 L69.02,277.82 L69.11,276.71 L69.20,275.60 L69.29,274.48 L69.38,273.37 L69.48,272.26 L69.57,271.15 L69.66,270.03 L69.76,268.92 L69.86,267.81 L69.95,266.70 L70.05,265.59 L70.15,264.47 L70.25,263.36 L70.35,262.25 L70.45,261.14 L70.55,260.03 L70.66,258.92 L70.76,257.80 L70.86,256.69 L70.97,255.58 L71.07,254.47 L71.18,253.36 L71.29,252.25 L71.39,251.14 L71.50,250.03 L71.61,248.92 L71.72,247.81 L71.83,246.70 L71.94,245.59 L72.05,244.48 L72.16,243.36 L72.28,242.25 L72.39,241.14 L72.50,240.03 L72.62,238.92 L72.73,237.81 L72.85,236.70 L72.96,235.59 L73.08,234.48 L73.20,233.37 L73.32,232.26 L73.44,231.15 L73.56,230.04 L73.68,228.93 L73.81,227.82 L73.93,226.71 L74.06,225.60 L74.18,224.49 L74.31,223.38 L74.44,222.27 L74.57,221.16 L74.71,220.06 L74.84,218.95 L74.98,217.84 L75.12,216.73 L75.26,215.63 L75.40,214.52 L75.54,213.41 L75.69,212.31 L75.84,211.20 L75.99,210.10 L76.14,208.99 L76.29,207.89 L76.45,206.78 L76.61,205.68 L76.77,204.58 L76.93,203.47 L77.10,202.37 L77.26,201.26 L77.43,200.16 L77.60,199.06 L77.78,197.95 L77.95,196.85 L78.13,195.75 L78.31,194.64 L78.49,193.54 L78.67,192.44 L78.86,191.34 L79.05,190.24 L79.24,189.14 L79.43,188.04 L79.62,186.93 L79.82,185.84 L80.02,184.74 L80.22,183.64 L80.42,182.54 L80.62,181.44 L80.82,180.34 L81.03,179.25 L81.24,178.15 L81.45,177.05 L81.66,175.96 L81.88,174.86 L82.09,173.77 L82.31,172.67 L82.53,171.58 L82.75,170.49 L82.97,169.40 L83.20,168.30 L83.44,167.21 L83.68,166.12 L83.93,165.04 L84.18,163.95 L84.43,162.86 L84.69,161.77 L84.95,160.69 L85.22,159.60 L85.49,158.52 L85.76,157.44 L86.04,156.35 L86.31,155.27 L86.59,154.19 L86.87,153.11 L87.15,152.03 L87.43,150.95 L87.72,149.87 L88.00,148.79 L88.29,147.71 L88.58,146.63 L88.87,145.55 L89.16,144.48 L89.46,143.40 L89.76,142.32 L90.06,141.25 L90.37,140.17 L90.68,139.10 L90.99,138.03 L91.31,136.96 L91.63,135.89 L91.96,134.82 L92.29,133.75 L92.62,132.69 L92.96,131.63 L93.31,130.57 L93.66,129.52 L94.02,128.46 L94.39,127.41 L94.77,126.36 L95.16,125.31 L95.56,124.26 L95.97,123.22 L96.39,122.19 L96.81,121.15 L97.25,120.13 L97.69,119.11 L98.14,118.09 L98.61,117.07 L99.09,116.06 L99.58,115.05 L100.09,114.06 L100.61,113.07 L101.15,112.10 L101.70,111.13 L102.27,110.17 L102.85,109.21 L103.46,108.26 L104.08,107.33 L104.73,106.42 L105.39,105.53 L106.08,104.66 L106.81,103.83 L107.57,103.02 L108.37,102.23 L109.17,101.44 L109.96,100.65 L110.74,99.85 L111.51,99.03 L112.28,98.22 L113.07,97.44 L113.88,96.67 L114.71,95.93 L115.55,95.19 L116.40,94.46 L117.25,93.74 L118.12,93.04 L118.99,92.34 L119.87,91.65 L120.75,90.97 L121.64,90.29 L122.54,89.62 L123.45,88.97 L124.37,88.33 L125.30,87.73 L126.25,87.15 L127.23,86.60 L128.22,86.09 L129.22,85.61 L130.24,85.15 L131.27,84.71 L132.30,84.28 L133.33,83.84 L134.36,83.41 L135.39,82.98 L136.43,82.56 L137.47,82.16 L138.52,81.79 L139.58,81.43 L140.64,81.11 L141.71,80.80 L142.78,80.51 L143.87,80.23 L144.95,79.96 L146.04,79.71 L147.13,79.45 L148.22,79.20 L149.31,78.96 L150.40,78.71 L151.49,78.46 L152.58,78.21 L153.67,77.97 L154.76,77.73 L155.85,77.49 L156.94,77.27 L158.04,77.05 L159.13,76.85 L160.23,76.66 L161.33,76.48 L162.44,76.30 L163.54,76.12 L164.64,75.95 L165.75,75.80 L166.86,75.65 L167.97,75.51 L169.07,75.39 L170.18,75.28 L171.29,75.19 L172.41,75.10 L173.52,75.01 L174.63,74.93 L175.74,74.86 L176.86,74.79 L177.97,74.72 L179.09,74.66 L180.21,74.60 L181.32,74.54 L182.44,74.48 L183.55,74.42 L184.67,74.37 L185.78,74.31 L186.89,74.25 L188.01,74.20 L189.12,74.14 L190.24,74.08 L191.36,74.03 L192.47,73.98 L193.59,73.93 L194.70,73.89 L195.82,73.85 L196.93,73.81 L198.05,73.79 L199.16,73.76 L200.28,73.75 L201.40,73.73 L202.51,73.72 L203.63,73.71 L204.74,73.70 L205.86,73.70 L206.98,73.70 L208.09,73.71 L209.21,73.72 L210.32,73.73 L211.44,73.74 L212.56,73.76 L213.67,73.78 L214.79,73.80 L215.90,73.83 L217.02,73.85 L218.13,73.88 L219.25,73.91 L220.37,73.95 L221.48,73.98 L222.60,74.02 L223.71,74.06 L224.83,74.10 L225.94,74.14 L227.06,74.19 L228.17,74.23 L229.29,74.28 L230.41,74.33 L231.52,74.38 L232.64,74.42 L233.75,74.47 L234.87,74.52 L235.98,74.57 L237.10,74.62 L238.21,74.68 L239.33,74.73 L240.44,74.78 L241.56,74.83 L242.68,74.88 L243.79,74.93 L244.91,74.98 L246.02,75.03 L247.14,75.08 L248.25,75.13 L249.37,75.17 L250.48,75.22 L251.60,75.27 L252.71,75.31 L253.83,75.36 L254.94,75.41 L256.06,75.46 L257.17,75.52 L258.29,75.57 L259.40,75.62 L260.52,75.67 L261.63,75.73 L262.75,75.78 L263.86,75.84 L264.98,75.90 L266.09,75.95 L267.21,76.01 L268.32,76.07 L269.43,76.13 L270.55,76.19 L271.66,76.25 L272.78,76.31 L273.89,76.37 L275.01,76.43 L276.12,76.49 L277.24,76.55 L278.35,76.62 L279.47,76.68 L280.58,76.74 L281.69,76.81 L282.81,76.87 L283.92,76.93 L285.04,77.00 L286.15,77.06 L287.27,77.12 L288.38,77.19 L289.49,77.25 L290.61,77.32 L291.72,77.38 L292.84,77.45 L293.95,77.52 L295.07,77.59 L296.18,77.66 L297.29,77.73 L298.41,77.79 L299.52,77.87 L300.64,77.94 L301.75,78.01 L302.86,78.08 L303.98,78.15 L305.09,78.22 L306.20,78.29 L307.32,78.37 L308.43,78.44 L309.55,78.51 L310.66,78.59 L311.77,78.66 L312.89,78.74 L314.00,78.81 L315.11,78.89 L316.23,78.96 L317.34,79.04 L318.46,79.11 L319.57,79.19 L320.68,79.26 L321.80,79.34 L322.91,79.41 L324.02,79.49 L325.14,79.57 L326.25,79.64 L327.36,79.72 L328.48,79.80 L329.59,79.87 L330.71,79.95 L331.82,80.03 L332.93,80.10 L334.05,80.18 L335.16,80.26 L336.27,80.34 L337.39,80.42 L338.50,80.50 L339.61,80.58 L340.73,80.66 L341.84,80.74 L342.95,80.83 L344.07,80.91 L345.18,80.99 L346.29,81.07 L347.40,81.16 L348.52,81.24 L349.63,81.32 L350.74,81.41 L351.86,81.49 L352.97,81.58 L354.08,81.66 L355.20,81.75 L356.31,81.83 L357.42,81.91 L358.53,82.00 L359.65,82.08 L360.76,82.17 L361.87,82.25 L362.99,82.34 L364.10,82.42 L365.21,82.51 L366.33,82.59 L367.44,82.67 L368.55,82.76 L369.66,82.84 L370.78,82.93 L371.89,83.01 L373.00,83.09 L374.12,83.17 L375.23,83.26 L376.34,83.34 L377.46,83.42 L378.57,83.50 L379.68,83.58 L380.80,83.66 L381.91,83.74 L383.02,83.82 L384.14,83.90 L385.25,83.98 L386.36,84.05 L387.48,84.13 L388.59,84.20 L389.70,84.28 L390.82,84.35 L391.93,84.43 L393.05,84.50 L394.16,84.58 L395.27,84.65 L396.39,84.72 L397.50,84.79 L398.61,84.86 L399.73,84.93 L400.84,85.00 L401.96,85.08 L403.07,85.15 L404.18,85.21 L405.30,85.28 L406.41,85.35 L407.53,85.42 L408.64,85.49 L409.75,85.56 L410.87,85.63 L411.98,85.70 L413.10,85.76 L414.21,85.83 L415.32,85.90 L416.44,85.97 L417.55,86.04 L418.67,86.10 L419.78,86.17 L420.90,86.24 L422.01,86.31 L423.12,86.38 L424.24,86.44 L425.35,86.51 L426.47,86.58 L427.58,86.65 L428.69,86.72 L429.81,86.79 L430.92,86.86 L432.04,86.93 L433.15,87.00 L434.26,87.06 L435.38,87.13 L436.49,87.20 L437.61,87.27 L438.72,87.34 L439.83,87.41 L440.95,87.48 L442.06,87.55 L443.18,87.62 L444.29,87.69 L445.40,87.76 L446.52,87.82 L447.63,87.89 L448.75,87.96 L449.86,88.03 L450.98,88.10 L452.09,88.17 L453.20,88.24 L454.32,88.31 L455.43,88.38 L456.55,88.44 L457.66,88.51 L458.77,88.58 L459.89,88.65 L461.00,88.72 L462.12,88.79 L463.23,88.86 L464.34,88.93 L465.46,88.99 L466.57,89.06 L467.69,89.13 L468.80,89.20" stroke="#00ff00" stroke-dasharray="6.4 1.98" stroke-dashoffset="0.89"/>
</g>
<circle cx="192.7" cy="92.25" r="3.8" fill="#ff0000"/>
<circle cx="205.8" cy="73.8" r="3.8" fill="#00ff00"/>
<circle cx="206.9" cy="71.7" r="3.8" fill="#ff8000"/>
<circle cx="208.6" cy="68.5" r="3.8" fill="#0080ff"/>
<circle cx="212.3" cy="64.4" r="3.8" fill="#ff00ff"/>
<circle cx="215.7" cy="58.6" r="3.8" fill="#00ffff"/>
<circle cx="221.2" cy="50.6" r="3.8" fill="#800080"/>
<circle cx="232.8" cy="36.5" r="3.8" fill="#0000ff"/>
<g stroke="#000" fill="none">
<path d="M53.4,24.0 H472.85 V282.9 H53.4 Z" stroke-width="2.3"/>
<path d="M53.4,278.19 h3.4 M53.4,270.14 h3.4 M53.4,262.10 h3.4 M53.4,254.05 h5.6 M53.4,246.00 h3.4 M53.4,237.96 h3.4 M53.4,229.91 h3.4 M53.4,221.87 h3.4 M53.4,213.82 h5.6 M53.4,205.77 h3.4 M53.4,197.73 h3.4 M53.4,189.68 h3.4 M53.4,181.64 h3.4 M53.4,173.59 h5.6 M53.4,165.54 h3.4 M53.4,157.50 h3.4 M53.4,149.45 h3.4 M53.4,141.41 h3.4 M53.4,133.36 h5.6 M53.4,125.31 h3.4 M53.4,117.27 h3.4 M53.4,109.22 h3.4 M53.4,101.18 h3.4 M53.4,93.13 h5.6 M53.4,85.08 h3.4 M53.4,77.04 h3.4 M53.4,68.99 h3.4 M53.4,60.95 h3.4 M53.4,52.90 h5.6 M53.4,44.85 h3.4 M53.4,36.81 h3.4 M53.4,28.76 h3.4 M72.46,282.9 v-2.6 M93.11,282.9 v-2.6 M113.75,282.9 v-4.7 M134.39,282.9 v-2.6 M155.04,282.9 v-2.6 M175.68,282.9 v-2.6 M196.32,282.9 v-2.6 M216.97,282.9 v-4.7 M237.61,282.9 v-2.6 M258.25,282.9 v-2.6 M278.90,282.9 v-2.6 M299.54,282.9 v-2.6 M320.18,282.9 v-4.7 M340.83,282.9 v-2.6 M361.47,282.9 v-2.6 M382.11,282.9 v-2.6 M402.76,282.9 v-2.6 M423.40,282.9 v-4.7 M444.04,282.9 v-2.6 M464.69,282.9 v-2.6" stroke-width="2.0"/>
</g>
<g font-family="Liberation Sans, sans-serif" font-weight="bold" font-size="16.5" fill="#000" stroke="#000" stroke-width="0.22">
<text transform="translate(50.90,260.25) scale(1.095,1)" text-anchor="end">1.0</text>
<text transform="translate(50.90,220.02) scale(1.095,1)" text-anchor="end">1.5</text>
<text transform="translate(50.90,179.79) scale(1.095,1)" text-anchor="end">2.0</text>
<text transform="translate(50.90,139.56) scale(1.095,1)" text-anchor="end">2.5</text>
<text transform="translate(50.90,99.33) scale(1.095,1)" text-anchor="end">3.0</text>
<text transform="translate(50.90,59.10) scale(1.095,1)" text-anchor="end">3.5</text>
<text transform="translate(113.90,303.10) scale(1.095,1)" text-anchor="middle">0.0005</text>
<text transform="translate(217.12,303.10) scale(1.095,1)" text-anchor="middle">0.0010</text>
<text transform="translate(320.33,303.10) scale(1.095,1)" text-anchor="middle">0.0015</text>
<text transform="translate(423.55,303.10) scale(1.095,1)" text-anchor="middle">0.0020</text>
<text transform="translate(236.3,13.7) scale(1.092,1)" font-size="16.2"><tspan font-style="italic">α</tspan> = 0.8</text>
<text transform="translate(227.90,333.50) scale(1.054,1)" text-anchor="start"><tspan font-style="italic">ρ</tspan><tspan font-style="italic" font-size="11.8" dy="3">c</tspan><tspan dy="-3"> [km</tspan><tspan font-size="11.3" dy="-6.9" dx="-1.3">−2</tspan><tspan dy="6.9" dx="0.5">]</tspan></text>
<g transform="translate(13.7,176.6) rotate(-90)" font-size="17.2"><text transform="translate(-1.1,0) scale(0.92,1)">M</text><text transform="translate(11.9,0) scale(0.9,1)">[</text><text transform="translate(17.25,0) scale(0.9,1)">M</text><circle cx="37.2" cy="-0.8" r="3.7" fill="none" stroke="#000" stroke-width="1.4"/><circle cx="37.2" cy="-0.8" r="1.1"/><text transform="translate(42.5,0) scale(0.9,1)">]</text></g>
</g>
<g font-family="Liberation Sans, sans-serif" font-size="11.75" fill="#000">
<line x1="331.6" y1="158.30" x2="363" y2="158.30" stroke="#0000ff" stroke-width="2.3" stroke-dasharray="7.7 5"/>
<text x="373.2" y="161.90"><tspan font-style="italic">ω</tspan> = 0.3</text>
<line x1="331.6" y1="173.85" x2="359.1" y2="173.85" stroke="#800080" stroke-width="2.3" stroke-dasharray="5.1 2.35"/>
<text x="373.2" y="178.20"><tspan font-style="italic">ω</tspan> = 0.4</text>
<line x1="331.6" y1="189.40" x2="363" y2="189.40" stroke="#00ffff" stroke-width="2.3" stroke-dasharray="8.6 3.4"/>
<text x="373.2" y="192.70"><tspan font-style="italic">ω</tspan> = 0.5</text>
<line x1="331.6" y1="204.95" x2="361.9" y2="204.95" stroke="#ff00ff" stroke-width="2.3" stroke-dasharray="3.6 1.67"/>
<text x="373.2" y="208.20"><tspan font-style="italic">ω</tspan> = 0.6</text>
<line x1="331.6" y1="220.50" x2="363" y2="220.50" stroke="#0080ff" stroke-width="2.3" stroke-dasharray="6.9 1.6"/>
<text x="373.2" y="223.95"><tspan font-style="italic">ω</tspan> = 0.7</text>
<line x1="331.6" y1="236.05" x2="363" y2="236.05" stroke="#ff8000" stroke-width="2.3" stroke-dasharray="3.6 1.6 7.2 1.6"/>
<text x="373.2" y="238.20"><tspan font-style="italic">ω</tspan> = 0.8</text>
<line x1="331.6" y1="251.60" x2="361.2" y2="251.60" stroke="#00ff00" stroke-width="2.3" stroke-dasharray="5.4 0.6"/>
<text x="373.2" y="254.40"><tspan font-style="italic">ω</tspan> = 0.9</text>
<line x1="331.6" y1="267.15" x2="363" y2="267.15" stroke="#ff0000" stroke-width="2.3"/>
<text x="373.2" y="269.4">GR</text>
</g>
</svg>
</body></html>
